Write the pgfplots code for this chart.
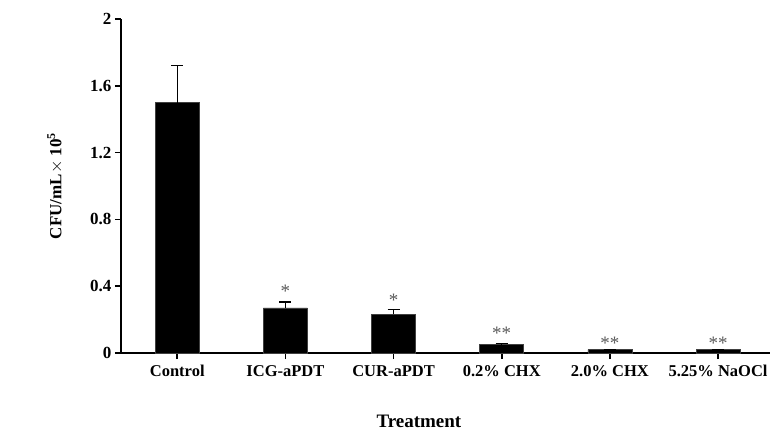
\documentclass[border=0pt]{standalone}
\usepackage{pgfplots}
\pgfplotsset{compat=1.18}
\usepackage{fontspec}
\setmainfont{Liberation Serif}
\begin{document}
\begin{tikzpicture}
\begin{axis}[
  scale only axis,
  width=649pt, height=334pt,
  at={(0,0)}, anchor=south west,
  xmin=-0.52, xmax=5.48,
  ymin=0, ymax=2,
  axis x line*=bottom, axis y line*=left,
  axis line style={line width=2.6pt, -},
  ytick={0,0.4,0.8,1.2,1.6,2},
  yticklabels={0,0.4,0.8,1.2,1.6,2},
  xtick={0,1,2,3,4,5},
  xticklabels={Control,ICG-aPDT,CUR-aPDT,0.2\% CHX,2.0\% CHX,5.25\% NaOCl},
  tick style={line width=1.6pt, black},
  major tick length=6pt,
  tick align=outside,
  yticklabel style={font=\fontsize{17}{20}\selectfont\bfseries},
  xticklabel style={font=\fontsize{16.5}{20}\selectfont\bfseries, yshift=-3pt},
  /pgf/number format/assume math mode=true,
  ylabel={CFU/mL$\times$ 10\textsuperscript{5}},
  every axis y label/.style={at={(rel axis cs:0,0.5)}, xshift=-66pt, rotate=90, anchor=center,
     font=\fontsize{17}{20}\selectfont\bfseries},
  xlabel={Treatment},
  every axis x label/.style={at={(rel axis cs:0.459,0)}, yshift=-68pt, anchor=center,
     font=\fontsize{19}{22}\selectfont\bfseries},
  clip=false,
]
\addplot[ybar, bar width=44pt, fill=black, draw=black!75, line width=0.6pt,
  error bars/.cd, y dir=plus, y explicit,
  error bar style={line width=1.3pt, black},
  error mark options={rotate=90, mark size=6pt, line width=1.3pt, black}]
  coordinates {
  (0,1.50) +- (0,0.22)
  (1,0.27) +- (0,0.035)
  (2,0.232) +- (0,0.028)
  (3,0.050) +- (0,0.006)
  (4,0.020) +- (0,0)
  (5,0.020) +- (0,0)
};
\node[text=black!65, font=\fontsize{19}{20}\selectfont] at (axis cs:1,0.37) {*};
\node[text=black!65, font=\fontsize{19}{20}\selectfont] at (axis cs:2,0.315) {*};
\node[text=black!65, font=\fontsize{19}{20}\selectfont] at (axis cs:3,0.12) {**};
\node[text=black!65, font=\fontsize{19}{20}\selectfont] at (axis cs:4,0.06) {**};
\node[text=black!65, font=\fontsize{19}{20}\selectfont] at (axis cs:5,0.06) {**};
\end{axis}
\path[use as bounding box] (-121pt,-87pt) rectangle (659pt,353pt);
\end{tikzpicture}
\end{document}
